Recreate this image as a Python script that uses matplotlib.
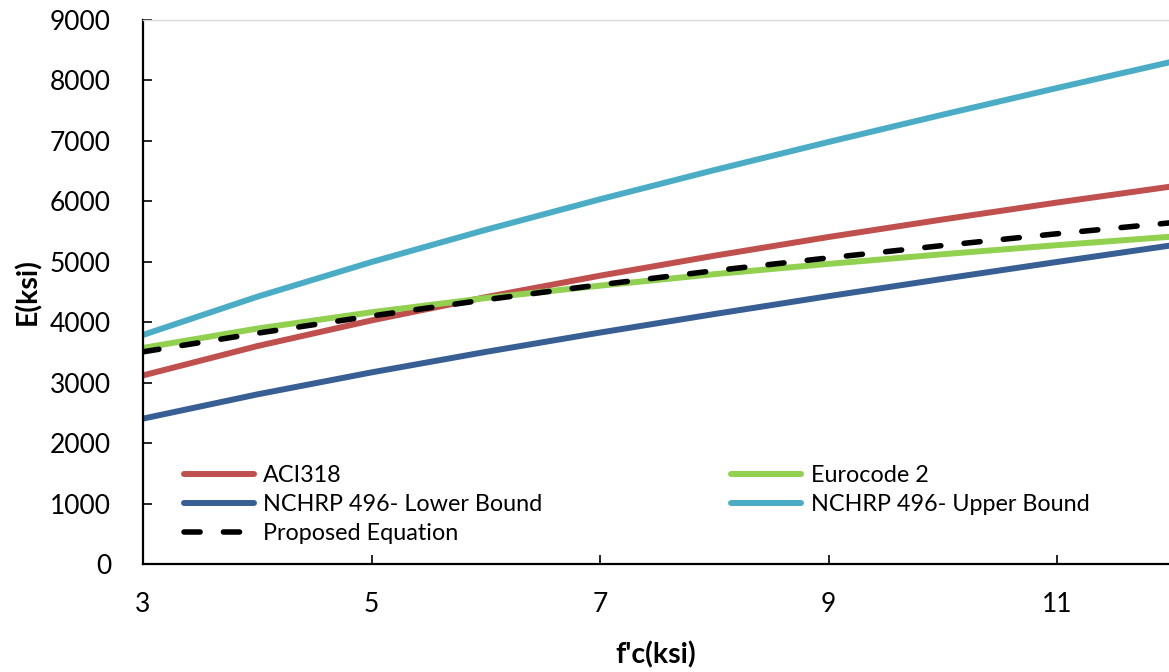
import matplotlib
matplotlib.use("Agg")
import matplotlib.pyplot as plt

fc = [3, 4, 5, 6, 7, 8, 9, 10, 11, 12]
aci318 = [3120, 3605, 4030, 4415, 4770, 5100, 5410, 5700, 5980, 6245]
eurocode2 = [3575, 3895, 4165, 4400, 4605, 4795, 4965, 5125, 5275, 5415]
nchrp_lower = [2405, 2806, 3170, 3509, 3829, 4135, 4431, 4717, 4997, 5271]
nchrp_upper = [3790, 4422, 4996, 5529, 6034, 6517, 6982, 7434, 7875, 8307]
proposed = [3510, 3818, 4103, 4372, 4619, 4852, 5064, 5269, 5464, 5646]

x_ticks = [3, 5, 7, 9, 11]
y_ticks = [0, 1000, 2000, 3000, 4000, 5000, 6000, 7000, 8000, 9000]

plt.rcParams['font.family'] = ['Lato', 'DejaVu Sans']

fig = plt.figure(figsize=(11.69, 6.72), dpi=100)
ax = fig.add_axes([143/1169, 1-564/672, 1-143/1169, (564-20)/672])

lw = 4.3
l_aci, = ax.plot(fc, aci318, color='#C0504D', lw=lw, solid_capstyle='round', label='ACI318')
l_eu, = ax.plot(fc, eurocode2, color='#92D050', lw=lw, solid_capstyle='round', label='Eurocode 2')
l_lo, = ax.plot(fc, nchrp_lower, color='#385F93', lw=lw, solid_capstyle='round', label='NCHRP 496- Lower Bound')
l_up, = ax.plot(fc, nchrp_upper, color='#4BACC6', lw=lw, solid_capstyle='round', label='NCHRP 496- Upper Bound')
l_pr, = ax.plot(fc, proposed, color='black', lw=4.0, dashes=(2.9, 4.2), dash_capstyle='round',
                label='Proposed Equation')

ax.set_xlim(3, 11.98)
ax.set_ylim(0, 9000)
ax.set_xticks(x_ticks)
ax.set_yticks(y_ticks)
ax.tick_params(axis='both', direction='in', length=6.5, width=1.2, labelsize=19, colors='black')
ax.tick_params(axis='y', pad=23)
ax.tick_params(axis='x', pad=20)

for s in ['left', 'bottom']:
    ax.spines[s].set_linewidth(1.6)
    ax.spines[s].set_color('black')
ax.spines['right'].set_visible(False)
ax.spines['top'].set_color('#d9d9d9')
ax.spines['top'].set_linewidth(1.0)

ax.set_xlabel("f'c(ksi)", fontsize=20.5, fontweight='bold', labelpad=18)
ax.set_ylabel("E(ksi)", fontsize=20.5, fontweight='bold', labelpad=6)

handles = [l_aci, l_lo, l_pr, l_eu, l_up]
leg = ax.legend(handles=handles, labels=[h.get_label() for h in handles], ncol=2,
                loc='lower left', bbox_to_anchor=(0.031, 0.02), frameon=False,
                fontsize=16.8, handlelength=3.0, handletextpad=0.39, columnspacing=8.1,
                labelspacing=0.33, borderaxespad=0)

fig.savefig('out.png', dpi=100)
